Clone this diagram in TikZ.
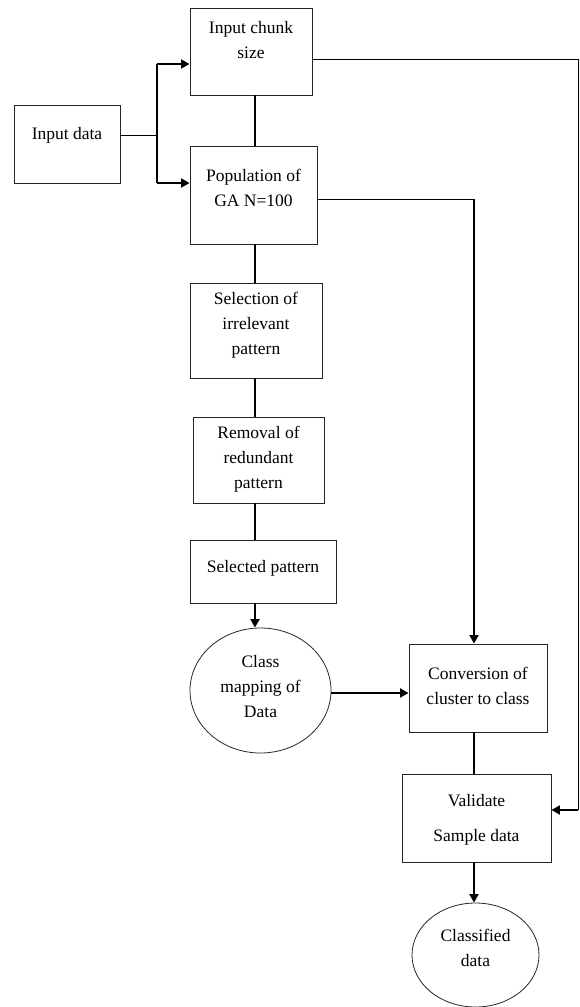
\documentclass[tikz,border=0pt]{standalone}
\usepackage{fontspec}
\setmainfont{Liberation Serif}
\usetikzlibrary{arrows.meta,shapes.geometric}
\tikzset{
  box/.style={draw=black!85, line width=0.9pt, inner sep=0pt},
  oval/.style={ellipse, draw=black!85, line width=0.8pt, inner sep=0pt},
  lbl/.style={align=center, font=\fontsize{17.5}{25}\selectfont, inner sep=0pt},
  conn/.style={line width=0.9pt},
  thickconn/.style={line width=1.9pt},
  arr/.style={line width=1.9pt, -{Triangle[length=8.5pt,width=9pt]}}
}
\begin{document}
\begin{tikzpicture}[x=1pt,y=-1pt]
\useasboundingbox (0,0) rectangle (579,1007);
% nodes
\node[box, minimum width=122pt, minimum height=87pt, label={[lbl,yshift=11.5pt]center:{Input chunk\\size}}] (chunk) at (251,51.5) {};
\node[box, minimum width=106pt, minimum height=78pt, label={[lbl,yshift=9pt]center:{Input data}}] (indata) at (67,144) {};
\node[box, minimum width=127pt, minimum height=98pt, label={[lbl,yshift=7.5pt]center:{Population of\\GA N=100}}] (pop) at (253.5,195) {};
\node[box, minimum width=132pt, minimum height=95pt, label={[lbl,yshift=5.5pt]center:{Selection of\\irrelevant\\pattern}}] (sel) at (256,330.5) {};
\node[box, minimum width=131pt, minimum height=86pt, label={[lbl,yshift=1pt]center:{Removal of\\redundant\\pattern}}] (rem) at (258.5,460) {};
\node[box, minimum width=146pt, minimum height=63pt, label={[lbl,yshift=3.5pt]center:{Selected pattern}}] (spat) at (263,571.5) {};
\node[oval, minimum width=141pt, minimum height=125pt, label={[lbl,yshift=3.5pt]center:{Class\\mapping of\\Data}}] (cmap) at (260.5,690.5) {};
\node[box, minimum width=138pt, minimum height=88pt, label={[lbl,yshift=2.5pt]center:{Conversion of\\cluster to class}}] (conv) at (478,688) {};
\node[box, minimum width=149pt, minimum height=88pt, label={[lbl,font=\fontsize{17.5}{35}\selectfont,yshift=-1.5pt]center:{Validate\\Sample data}}] (val) at (476.5,818) {};
\node[oval, minimum width=127pt, minimum height=104pt, label={[lbl,yshift=7.5pt]center:{Classified\\data}}] (cls) at (475.5,955) {};
% helper coordinates
\coordinate (colx) at (255,0);
\coordinate (colr) at (474,0);
\coordinate (br0) at (157,135);
\coordinate (br1) at (157,64);
\coordinate (br2) at (157,183);
\coordinate (px) at (474,199);
\coordinate (cx1) at (578,59);
\coordinate (cx2) at (578,810);
\coordinate (cm) at (331,693);
% connectors
\draw[conn] (indata.east |- br0) -- (br0);
\draw[thickconn] (br1) -- (br2);
\draw[arr] (br1) -- (chunk.west |- br1);
\draw[arr] (br2) -- (pop.west |- br2);
\draw[thickconn] (chunk.south -| colx) -- (pop.north -| colx);
\draw[thickconn] (pop.south -| colx) -- (sel.north -| colx);
\draw[thickconn] (sel.south -| colx) -- (rem.north -| colx);
\draw[thickconn] (rem.south -| colx) -- (spat.north -| colx);
\draw[arr] (spat.south -| colx) -- (cmap.north -| colx);
\draw[arr] (cm) -- (conv.west |- cm);
\draw[conn] (pop.east |- px) -- (px);
\draw[arr] (px) -- (conv.north -| px);
\draw[conn] (chunk.east |- cx1) -- (cx1) -- (cx2);
\draw[arr] (cx2) -- (val.east |- cx2);
\draw[thickconn] (conv.south -| colr) -- (val.north -| colr);
\draw[arr] (val.south -| colr) -- (cls.north -| colr);
\end{tikzpicture}
\end{document}
